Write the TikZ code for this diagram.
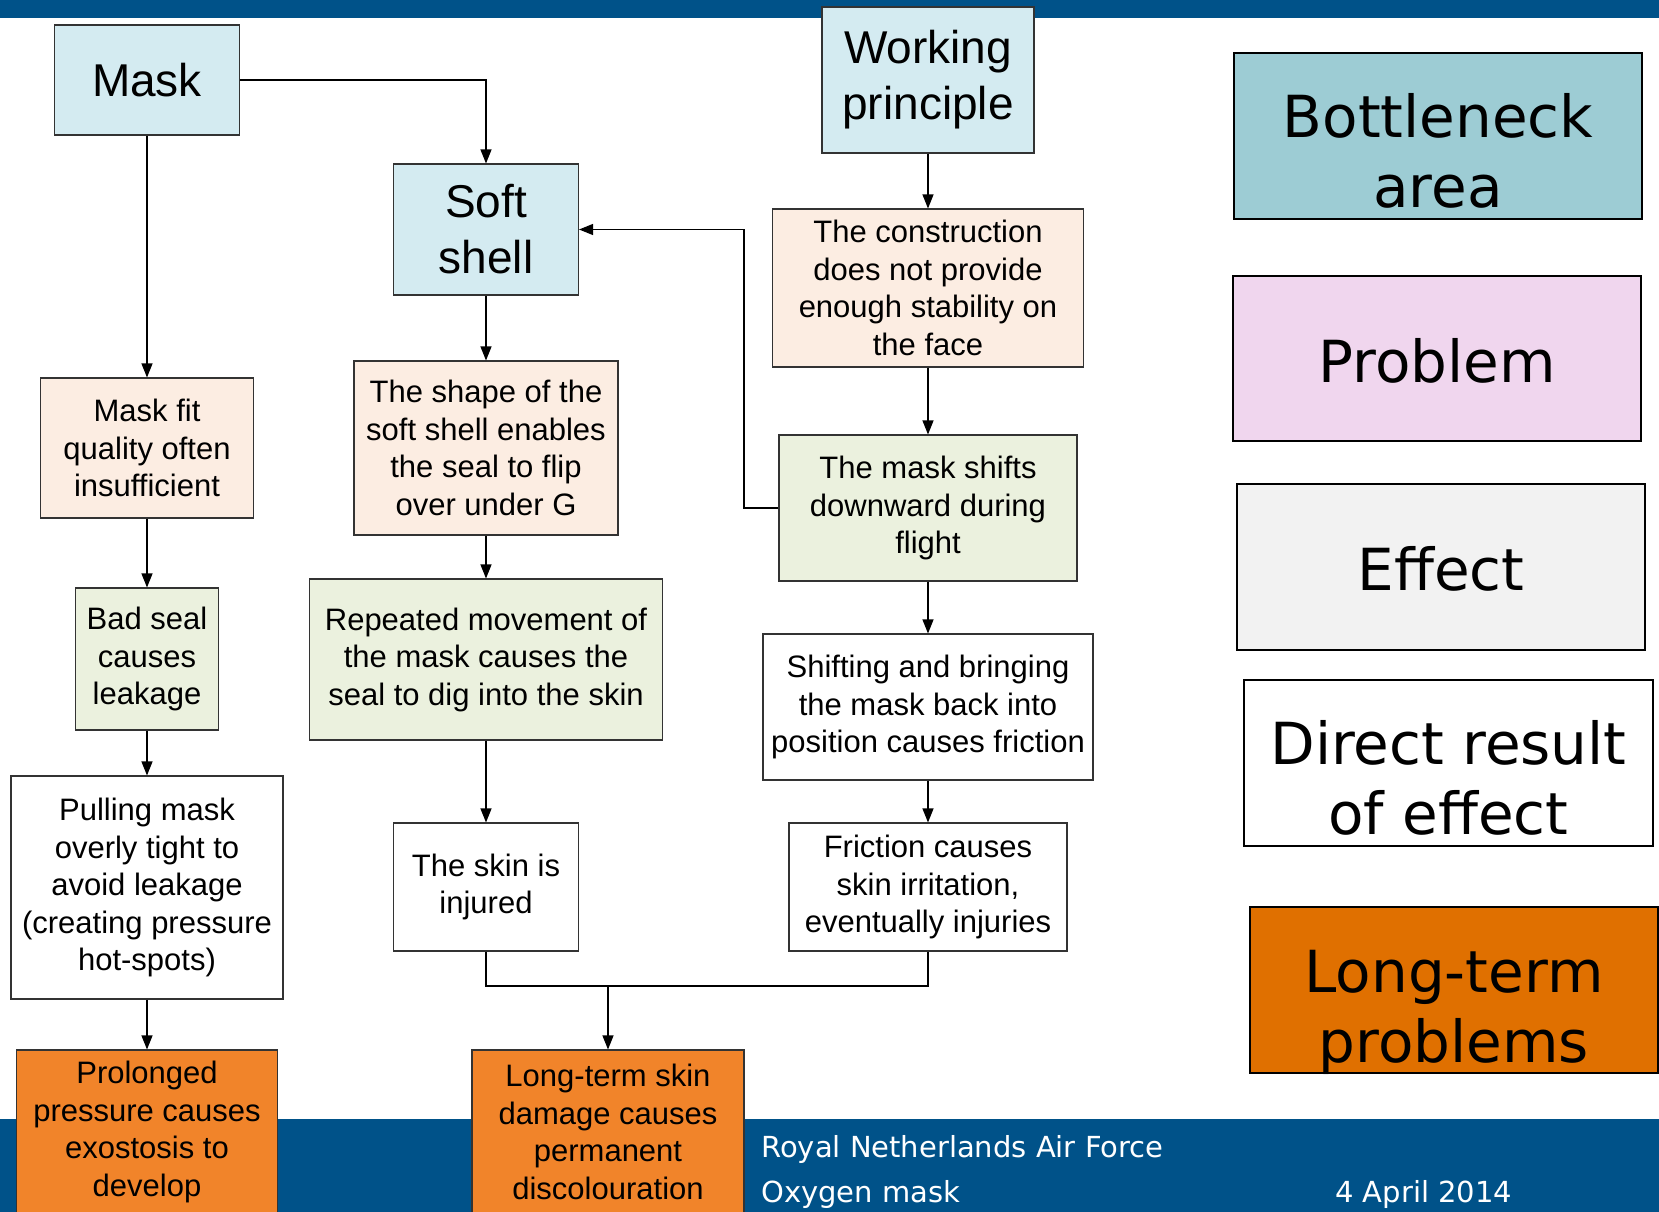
\documentclass[tikz,border=0pt]{standalone}
\usepackage{fontspec}
\setmainfont{Liberation Sans}
\newfontfamily\verd{DejaVu Sans}
\usetikzlibrary{arrows.meta,calc}
\definecolor{barblue}{RGB}{0,82,137}
\definecolor{tblue}{RGB}{212,235,241}
\definecolor{peach}{RGB}{252,237,226}
\definecolor{lgreen}{RGB}{235,241,222}
\definecolor{orng}{RGB}{241,132,42}
\definecolor{dorng}{RGB}{224,112,0}
\definecolor{teal}{RGB}{157,204,212}
\definecolor{pinkp}{RGB}{240,214,238}
\definecolor{greye}{RGB}{242,242,242}
\begin{document}
\begin{tikzpicture}[x=1pt,y=-1pt,
  box/.style={draw=black!80, line width=1.1pt, align=center, inner sep=0pt, font=\fontsize{31}{37.5}\selectfont},
  title/.style={box, font=\fontsize{46}{56}\selectfont},
  leg/.style={draw=black, line width=2pt, inner sep=0pt},
  legtxt/.style={align=center, inner sep=0pt, font=\verd\fontsize{58}{70}\selectfont},
  foot/.style={white, inner sep=0pt, anchor=base west, font=\verd\fontsize{29}{35}\selectfont},
  arr/.style={-{Triangle[length=14pt,width=11pt]}, line width=1.1pt},
  ln/.style={line width=1.1pt}]
\useasboundingbox (0,0) rectangle (1659,1212);
\clip (0,0) rectangle (1659,1212);
\fill[barblue] (0,0) rectangle (1659,18);
\fill[barblue] (0,1119) rectangle (1659,1212);
\node[foot] (f1) at (761,1157) {Royal Netherlands Air Force};
\node[foot] (f2) at (761,1202) {Oxygen mask};
\node[foot] (f3) at (1335,1202) {4 April 2014};

% column 1
\node[title, fill=tblue, minimum width=185pt, minimum height=110pt] (mask) at (147,80) {Mask};
\node[box, fill=peach, minimum width=213pt, minimum height=140pt] (fit) at (147,448) {Mask fit\\quality often\\insufficient};
\node[box, fill=lgreen, minimum width=143pt, minimum height=142pt] (seal) at (147,659) {Bad seal\\causes\\leakage};
\node[box, fill=white, minimum width=272pt, minimum height=223pt] (pull) at (147,887.5) {Pulling mask\\overly tight to\\avoid leakage\\(creating pressure\\hot-spots)};
\node[box, fill=orng, minimum width=261pt, minimum height=164pt] (prol) at (147,1132) {Prolonged\\pressure causes\\exostosis to\\develop};

% column 2
\node[title, fill=tblue, minimum width=185pt, minimum height=131pt] (soft) at (486,229.5) {Soft\\shell};
\node[box, fill=peach, minimum width=264pt, minimum height=174pt] (shape) at (486,448) {The shape of the\\soft shell enables\\the seal to flip\\over under G};
\node[box, fill=lgreen, minimum width=353pt, minimum height=161pt] (rep) at (486,659.5) {Repeated movement of\\the mask causes the\\seal to dig into the skin};
\node[box, fill=white, minimum width=185pt, minimum height=128pt] (skin) at (486,887) {The skin is\\injured};
\node[box, fill=orng, minimum width=272pt, minimum height=164pt] (lts) at (608,1132) {Long-term skin\\damage causes\\permanent\\discolouration};

% column 3
\node[title, fill=tblue, minimum width=212pt, minimum height=146pt] (work) at (928,80) {Working\\principle};
\node[box, fill=peach, minimum width=311pt, minimum height=158pt] (cons) at (928,288) {The construction\\does not provide\\enough stability on\\the face};
\node[box, fill=lgreen, minimum width=298pt, minimum height=146pt] (shift) at (928,508) {The mask shifts\\downward during\\flight};
\node[box, fill=white, minimum width=330pt, minimum height=146pt] (bring) at (928,707) {Shifting and bringing\\the mask back into\\position causes friction};
\node[box, fill=white, minimum width=278pt, minimum height=128pt] (fric) at (928,887) {Friction causes\\skin irritation,\\eventually injuries};

% legend
\node[leg, fill=teal, minimum width=408pt, minimum height=166pt] (lbot) at (1438,136) {};
\node[legtxt] (tbot) at (1438,151) {Bottleneck\\area};
\node[leg, fill=pinkp, minimum width=408pt, minimum height=165pt] (lprob) at (1437,358.5) {};
\node[legtxt] (tprob) at (1437,361) {Problem};
\node[leg, fill=greye, minimum width=408pt, minimum height=166pt] (leff) at (1441,567) {};
\node[legtxt] (teff) at (1441,569) {Effect};
\node[leg, fill=white, minimum width=409pt, minimum height=166pt] (ldir) at (1448.5,763) {};
\node[legtxt] (tdir) at (1448.5,778) {Direct result\\of effect};
\node[leg, fill=dorng, minimum width=408pt, minimum height=166pt] (llt) at (1454,990) {};
\node[legtxt] (tlt) at (1454,1012) {Long-term\\problems};

% connectors
\draw[arr] (mask) -- (fit);
\draw[arr] (fit) -- (seal);
\draw[arr] (seal) -- (pull);
\draw[arr] (pull) -- (prol.north -| pull.south);
\draw[arr] (mask.east) -| (soft.north);
\draw[arr] (soft) -- (shape);
\draw[arr] (shape) -- (rep);
\draw[arr] (rep) -- (skin);
\draw[arr] (work) -- (cons);
\draw[arr] (cons) -- (shift);
\draw[arr] (shift) -- (bring);
\draw[arr] (bring) -- (fric);
\coordinate (bend) at (744,508);
\draw[arr] (shift.west) -- (bend) |- (soft.east);
\coordinate (jn) at (608,986);
\draw[ln] (skin.south) |- (jn) -| (fric.south);
\draw[arr] (jn) -- (lts.north);
\end{tikzpicture}
\end{document}
